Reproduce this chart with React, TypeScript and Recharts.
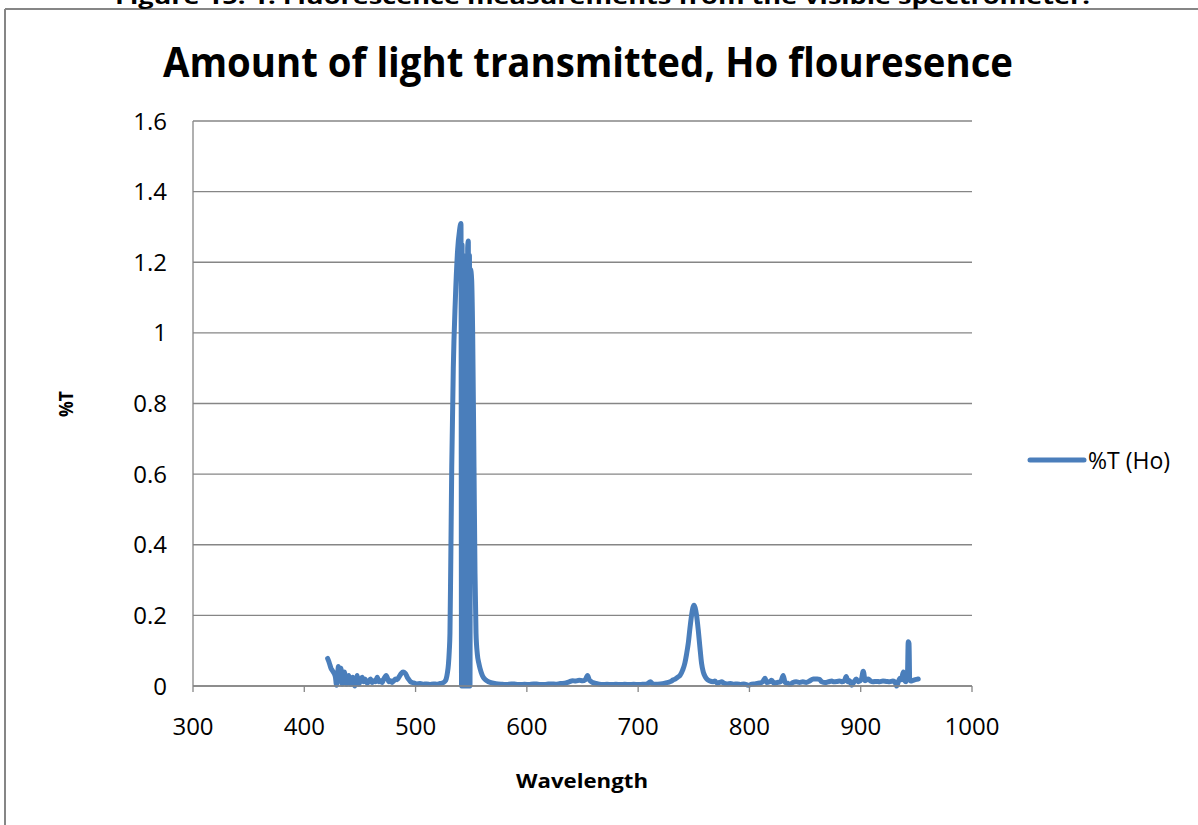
import React from 'react';
import { LineChart, Line, XAxis, YAxis, CartesianGrid, Legend } from 'recharts';

const chartTitle = 'Amount of light transmitted, Ho flouresence';
const figureCaption = 'Figure 15: 1: Fluorescence measurements from the visible spectrometer.';
const xTitle = 'Wavelength';
const yTitle = '%T';
const seriesName = '%T (Ho)';

const xTicks = [300, 400, 500, 600, 700, 800, 900, 1000];
const yTicks = [0, 0.2, 0.4, 0.6, 0.8, 1, 1.2, 1.4, 1.6];

const wavelengths = [
  421, 422, 423, 424, 425, 426, 427, 428, 429, 430, 430.6, 432, 433, 434, 435, 436, 437, 438, 439, 440,
  441, 441.5, 442.5, 443.5, 444.5, 445.4, 446.5, 447.5, 448.3, 449, 450, 451, 452, 453, 454.5, 455.5, 456.5, 458, 459.5, 461,
  462.5, 464, 465.6, 467, 468.5, 470, 471.5, 473.6, 475, 476, 477.5, 479, 480.5, 482, 483.5, 485, 487, 488.7, 490, 491,
  492.5, 494, 495.5, 497, 499, 501, 504, 507, 510, 513, 516, 519, 522, 524, 526, 527.5, 528.5, 529.5, 530.3, 530.9,
  531.6, 532.5, 533.9, 535.7, 537.8, 539.5, 540.8, 541.3, 541.8, 542.3, 542.8, 543.3, 543.8, 544.3, 544.8, 545.3, 545.8, 546.3, 546.8, 547.4,
  547.9, 548.4, 548.9, 549.4, 550.4, 551.3, 552.5, 553.4, 554.3, 555.5, 556.8, 557.9, 560, 562, 564, 567, 570, 574, 578, 582,
  586, 590, 594, 598, 602, 606, 610, 614, 618, 622, 626, 630, 634, 638, 641, 644, 647, 650, 652.5, 654.5,
  656, 658, 661, 664, 668, 672, 676, 680, 684, 688, 692, 696, 700, 704, 708, 711, 713, 716, 720, 724,
  727, 729.5, 731.3, 733.5, 735.5, 737.6, 740, 742, 743.5, 745, 746.6, 748, 749.2, 750.2, 751.2, 752.5, 754, 755.5, 757, 758.5,
  760, 761.6, 764, 767.5, 769, 771, 773, 775, 777, 780, 783, 786, 789, 792, 795, 799, 802, 805, 808, 811,
  812.5, 814, 815.5, 818, 820, 822, 825, 828, 830.4, 832, 834, 836.4, 839, 842, 845, 848, 851, 854, 856, 857.5,
  859, 861, 863, 865, 868, 871, 874, 876, 879, 881, 883.5, 885.5, 887, 888.5, 890, 892, 894, 896, 898, 900.5,
  902.3, 904, 906.8, 909, 911, 914, 917, 920, 923, 926, 929, 931, 932.3, 933.8, 935.3, 936.5, 938.3, 939.5, 940.7, 942,
  942.7, 943.4, 944, 945, 947, 949, 951.7,
];

const transmission = [
  0.078, 0.07, 0.06, 0.05, 0.045, 0.04, 0.035, 0.025, 0.002, 0.03, 0.055, 0.04, 0.05, 0.005, 0.02, 0.04, 0.02, 0.005, 0.015, 0.03,
  0.015, 0.005, 0.015, 0.025, 0.01, 0.0, 0.015, 0.03, 0.015, 0.005, 0.012, 0.02, 0.025, 0.012, 0.02, 0.015, 0.008, 0.012, 0.02, 0.01,
  0.015, 0.012, 0.025, 0.012, 0.015, 0.01, 0.02, 0.03, 0.02, 0.012, 0.015, 0.01, 0.015, 0.02, 0.018, 0.025, 0.035, 0.04, 0.038, 0.035,
  0.025, 0.018, 0.012, 0.01, 0.008, 0.006, 0.007, 0.005, 0.006, 0.004, 0.006, 0.005, 0.007, 0.008, 0.012, 0.02, 0.035, 0.06, 0.1, 0.15,
  0.34, 0.62, 0.9, 1.09, 1.235, 1.29, 1.31, 0.0, 1.25, 0.0, 1.22, 0.0, 1.18, 0.0, 1.15, 0.0, 1.2, 0.0, 1.24, 1.26,
  0.0, 1.22, 0.0, 1.18, 1.15, 1.0, 0.62, 0.32, 0.15, 0.09, 0.065, 0.05, 0.03, 0.02, 0.015, 0.01, 0.008, 0.006, 0.005, 0.004,
  0.006, 0.005, 0.004, 0.005, 0.004, 0.006, 0.005, 0.004, 0.005, 0.006, 0.005, 0.007, 0.008, 0.012, 0.015, 0.014, 0.016, 0.015, 0.018, 0.03,
  0.018, 0.012, 0.008, 0.006, 0.004, 0.005, 0.004, 0.005, 0.004, 0.005, 0.004, 0.005, 0.004, 0.005, 0.006, 0.012, 0.006, 0.005, 0.006, 0.008,
  0.01, 0.013, 0.017, 0.02, 0.025, 0.03, 0.045, 0.065, 0.09, 0.12, 0.165, 0.2, 0.222, 0.229, 0.222, 0.2, 0.159, 0.11, 0.064, 0.04,
  0.028, 0.02, 0.015, 0.012, 0.014, 0.008, 0.01, 0.012, 0.008, 0.006, 0.007, 0.005, 0.006, 0.004, 0.006, 0.002, 0.005, 0.006, 0.008, 0.01,
  0.015, 0.022, 0.01, 0.012, 0.016, 0.008, 0.01, 0.012, 0.03, 0.01, 0.008, 0.004, 0.01, 0.012, 0.01, 0.012, 0.01, 0.014, 0.018, 0.02,
  0.02, 0.02, 0.019, 0.012, 0.01, 0.012, 0.014, 0.012, 0.013, 0.014, 0.012, 0.016, 0.027, 0.012, 0.015, 0.002, 0.012, 0.02, 0.012, 0.018,
  0.042, 0.015, 0.02, 0.014, 0.012, 0.013, 0.012, 0.014, 0.013, 0.012, 0.014, 0.01, 0.0, 0.012, 0.022, 0.018, 0.04, 0.015, 0.012, 0.03,
  0.125, 0.12, 0.02, 0.014, 0.016, 0.018, 0.02,
];

const data = wavelengths.map((wl, i) => ({ wl, t: transmission[i] }));

const LINE_COLOR = '#4A7EBB';
const GRID_COLOR = '#868686';
const FONT = '"Open Sans", "Noto Sans", sans-serif';

const LegendContent = () => (
  <div style={{ display: 'flex', alignItems: 'center', fontFamily: FONT, fontSize: 23, color: '#000', whiteSpace: 'nowrap' }}>
    <svg width={60} height={10} style={{ display: 'block' }}>
      <line x1={3} y1={5} x2={57} y2={5} stroke={LINE_COLOR} strokeWidth={5} strokeLinecap="round" />
    </svg>
    <span style={{ marginLeft: 1 }}>{seriesName}</span>
  </div>
);

export default function App() {
  return (
    <div style={{ position: 'absolute', left: 0, top: 0, width: 1198, height: 825, background: '#fff', overflow: 'hidden' }}>
      <LineChart
        width={1198}
        height={825}
        data={data}
        margin={{ top: 121, right: 226, bottom: 99, left: 133 }}
      >
        <CartesianGrid horizontal={true} vertical={false} stroke={GRID_COLOR} strokeWidth={1.3} />
        <XAxis
          dataKey="wl"
          type="number"
          domain={[300, 1000]}
          ticks={xTicks}
          interval={0}
          height={40}
          axisLine={{ stroke: GRID_COLOR, strokeWidth: 1.3 }}
          tickLine={{ stroke: GRID_COLOR, strokeWidth: 1.3 }}
          tickSize={6}
          tickMargin={26}
          tick={{ fill: '#000', fontSize: 24, fontFamily: FONT }}
        />
        <YAxis
          type="number"
          domain={[0, 1.6]}
          ticks={yTicks}
          interval={0}
          width={60}
          axisLine={{ stroke: GRID_COLOR, strokeWidth: 1.3 }}
          tickLine={false}
          tickSize={6}
          tickMargin={20}
          tick={{ fill: '#000', fontSize: 24, fontFamily: FONT }}
        />
        <Legend
          layout="horizontal"
          verticalAlign="middle"
          align="center"
          content={<LegendContent />}
          wrapperStyle={{ left: 1027, top: 444, width: 170, height: 32 }}
        />
        <Line
          type="monotone"
          dataKey="t"
          name={seriesName}
          stroke={LINE_COLOR}
          strokeWidth={5}
          strokeLinejoin="round"
          strokeLinecap="round"
          dot={false}
          activeDot={false}
          isAnimationActive={false}
        />
      </LineChart>
      <svg
        width={1198}
        height={825}
        style={{ position: 'absolute', left: 0, top: 0, pointerEvents: 'none' }}
      >
        <line x1={5} y1={9} x2={1198} y2={9} stroke={GRID_COLOR} strokeWidth={2} />
        <line x1={5} y1={9} x2={5} y2={825} stroke={GRID_COLOR} strokeWidth={2} />
        <text x={115} y={4} fontFamily={FONT} fontWeight="bold" fontSize={22} textLength={975} lengthAdjust="spacingAndGlyphs" fill="#000">
          {figureCaption}
        </text>
        <text x={163} y={77} fontFamily={FONT} fontWeight="bold" fontSize={42} textLength={850} lengthAdjust="spacingAndGlyphs" fill="#000">
          {chartTitle}
        </text>
        <text
          x={0}
          y={0}
          transform="translate(73 404) rotate(-90)"
          textAnchor="middle"
          fontFamily={FONT}
          fontWeight="bold"
          fontSize={20}
          textLength={26}
          lengthAdjust="spacingAndGlyphs"
          fill="#000"
        >
          {yTitle}
        </text>
        <text x={516} y={788} fontFamily={FONT} fontWeight="bold" fontSize={20} textLength={132} lengthAdjust="spacingAndGlyphs" fill="#000">
          {xTitle}
        </text>
      </svg>
    </div>
  );
}
